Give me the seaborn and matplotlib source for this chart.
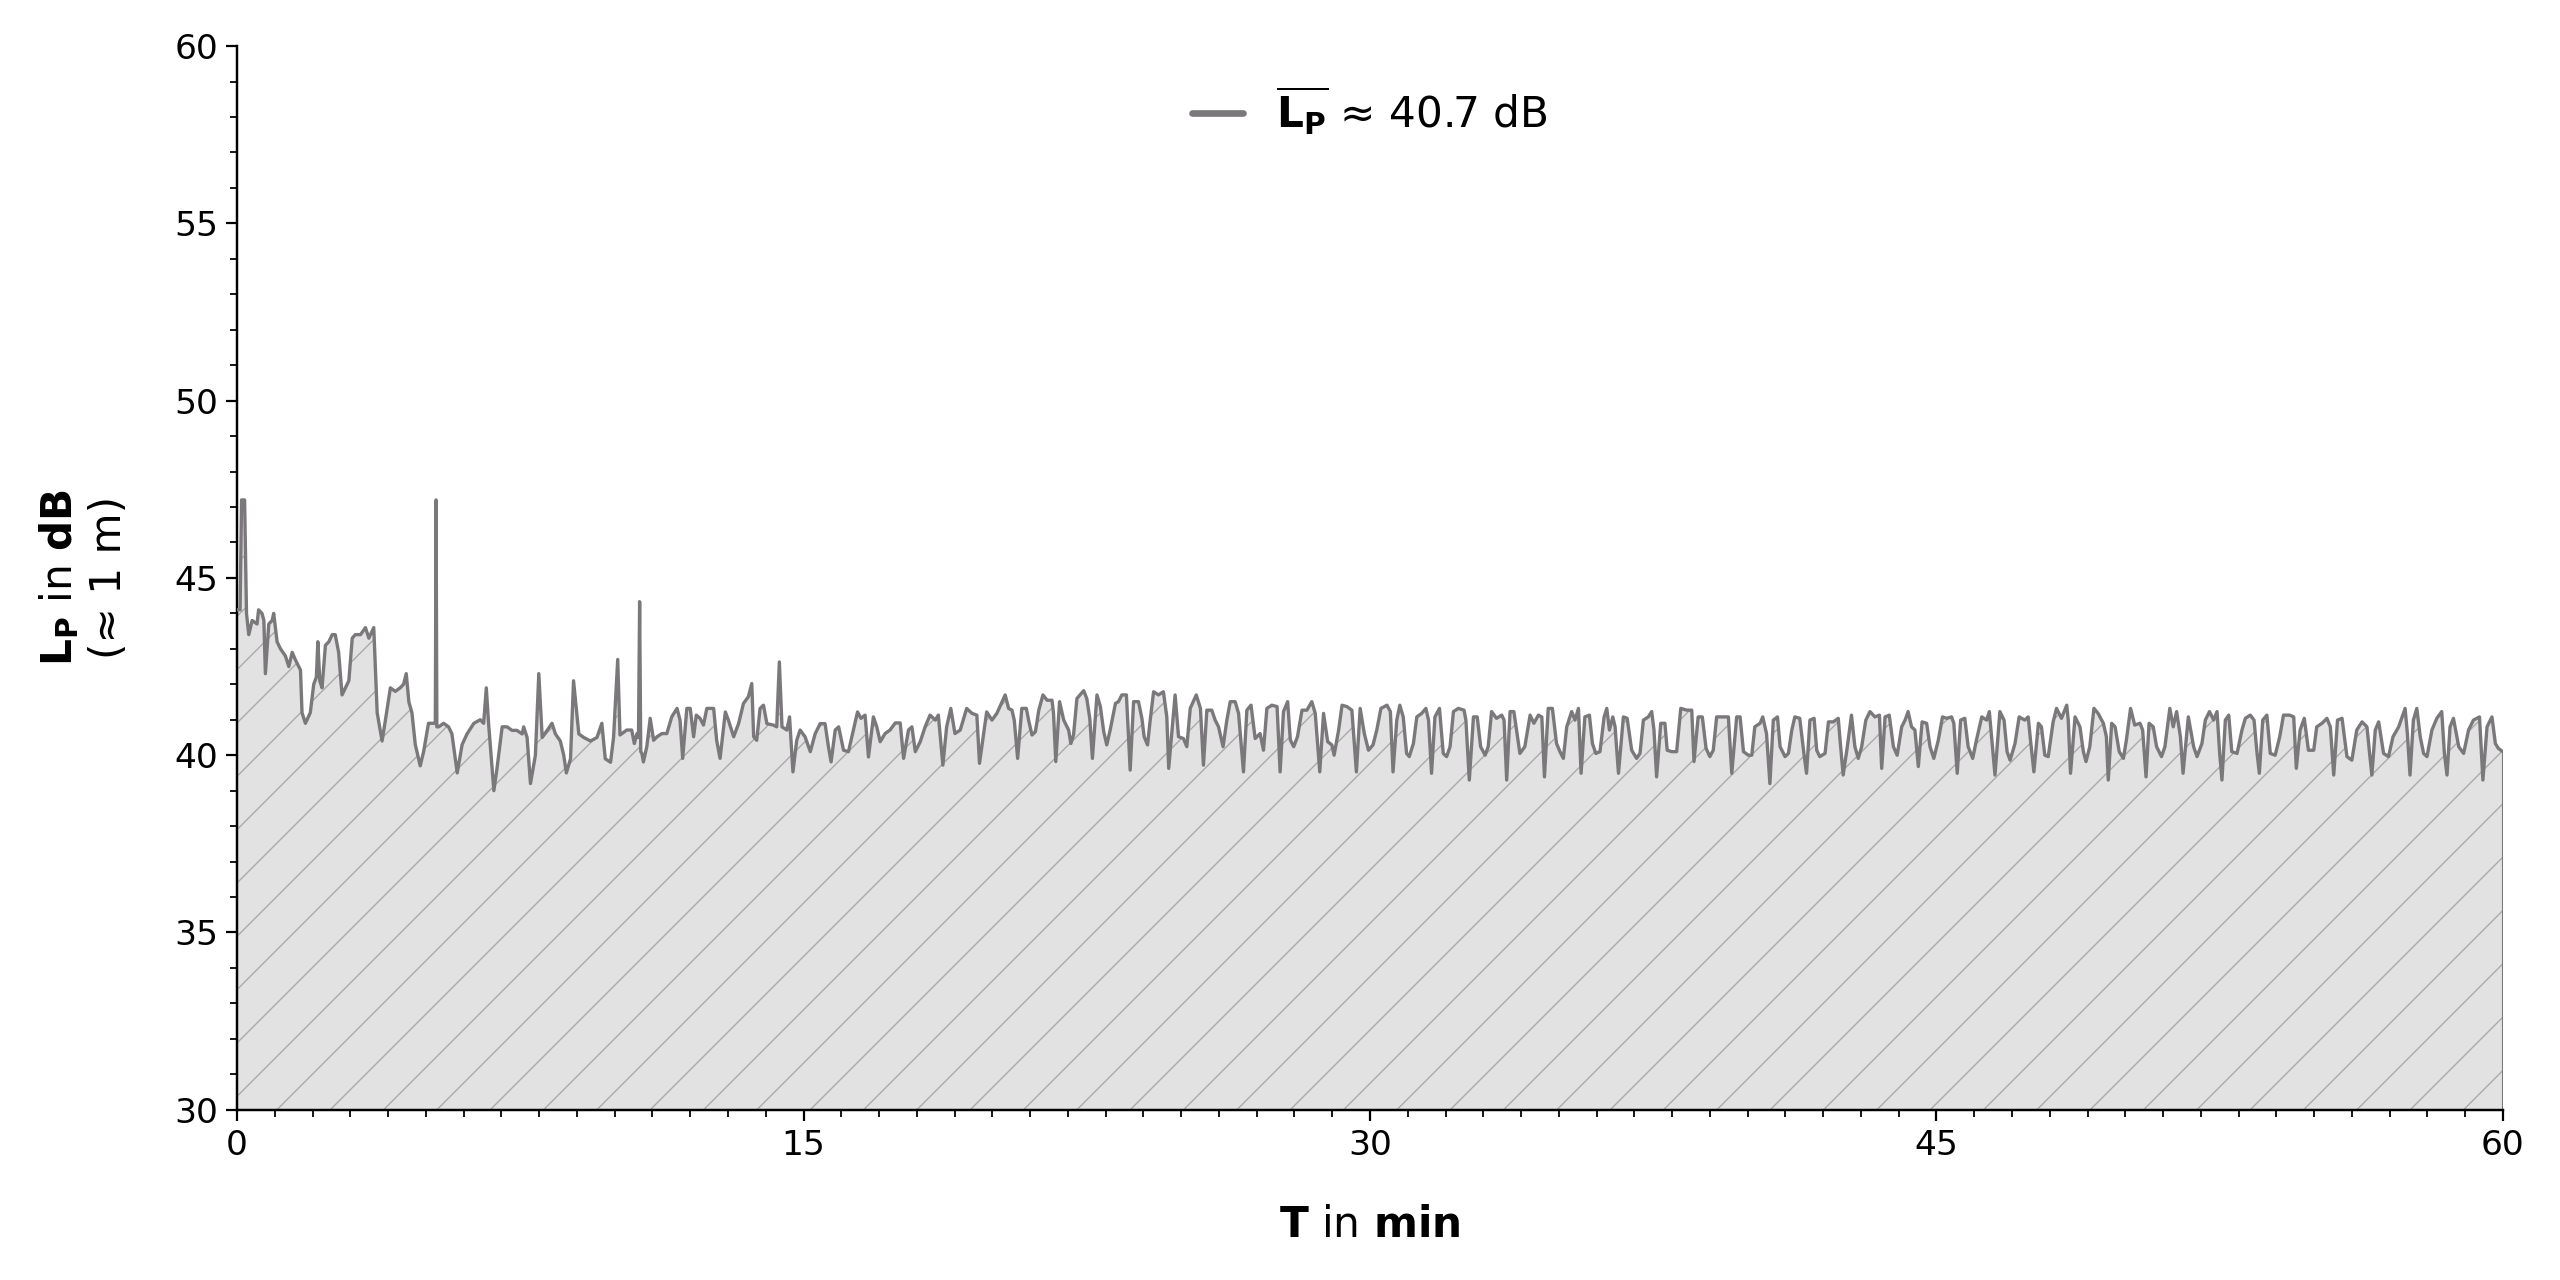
import numpy as np
import pandas as pd
import matplotlib
matplotlib.use('Agg')
import matplotlib.pyplot as plt
from matplotlib.ticker import MultipleLocator
import seaborn as sns

# (time in min, level in dB), split in ~10 min pieces
seg_00_10 = [(0.00, 44.1), (0.08, 44.1), (0.12, 47.2), (0.20, 47.2), (0.25, 44.0), (0.31, 43.4),
             (0.40, 43.8), (0.53, 43.7), (0.57, 44.1), (0.66, 44.0), (0.71, 43.8), (0.75, 42.3),
             (0.84, 43.7), (0.93, 43.8), (0.97, 44.0), (1.06, 43.2), (1.15, 43.0), (1.28, 42.8),
             (1.37, 42.5), (1.46, 42.9), (1.54, 42.7), (1.68, 42.4), (1.72, 41.2), (1.81, 40.9),
             (1.94, 41.2), (2.03, 42.0), (2.10, 42.2), (2.14, 43.2), (2.19, 42.1), (2.25, 41.9),
             (2.34, 43.1), (2.43, 43.2), (2.52, 43.4), (2.60, 43.4), (2.69, 42.9), (2.78, 41.7),
             (2.87, 41.9), (2.96, 42.1), (3.05, 43.3), (3.13, 43.4), (3.27, 43.4), (3.40, 43.6),
             (3.49, 43.3), (3.62, 43.6), (3.71, 41.2), (3.84, 40.4), (3.93, 41.0), (4.06, 41.9),
             (4.19, 41.8), (4.32, 41.9), (4.41, 42.0), (4.48, 42.3), (4.55, 41.5), (4.63, 41.2),
             (4.72, 40.3), (4.85, 39.7), (4.94, 40.1), (5.07, 40.9), (5.21, 40.9), (5.25, 40.9),
             (5.27, 47.2), (5.29, 40.8), (5.34, 40.8), (5.47, 40.9), (5.60, 40.8), (5.69, 40.6),
             (5.83, 39.5), (5.96, 40.3), (6.09, 40.6), (6.27, 40.9), (6.44, 41.0), (6.53, 40.9),
             (6.60, 41.9), (6.66, 40.9), (6.80, 39.0), (6.88, 39.6), (7.02, 40.8), (7.15, 40.8),
             (7.28, 40.7), (7.41, 40.7), (7.55, 40.6), (7.59, 40.8), (7.68, 40.5), (7.77, 39.2),
             (7.90, 40.0), (7.99, 42.3), (8.08, 40.5), (8.21, 40.7), (8.34, 40.9), (8.43, 40.6),
             (8.56, 40.4), (8.65, 40.0), (8.72, 39.5), (8.83, 39.9), (8.91, 42.1), (9.05, 40.6),
             (9.18, 40.5), (9.36, 40.4), (9.53, 40.5), (9.66, 40.9), (9.75, 39.9), (9.89, 39.8),
             (9.97, 40.5), (10.08, 42.7)]

seg_10_20 = [(10.14, 40.57), (10.32, 40.71), (10.45, 40.71), (10.52, 40.33), (10.59, 40.61),
             (10.63, 40.5), (10.66, 44.33), (10.69, 40.1), (10.72, 40.05), (10.76, 39.81),
             (10.85, 40.24), (10.94, 41.04), (11.03, 40.42), (11.12, 40.52), (11.25, 40.61),
             (11.38, 40.61), (11.51, 41.08), (11.65, 41.32), (11.73, 40.99), (11.80, 39.91),
             (11.91, 41.32), (12.00, 41.32), (12.09, 40.52), (12.16, 41.13), (12.26, 41.04),
             (12.35, 40.85), (12.44, 41.32), (12.62, 41.32), (12.70, 40.42), (12.79, 39.91),
             (12.93, 41.22), (13.01, 40.99), (13.15, 40.52), (13.28, 40.89), (13.41, 41.46),
             (13.54, 41.65), (13.63, 42.02), (13.68, 40.52), (13.76, 40.42), (13.85, 41.32),
             (13.94, 41.41), (14.03, 40.89), (14.20, 40.85), (14.29, 40.80), (14.36, 42.63),
             (14.43, 40.80), (14.56, 40.71), (14.63, 41.08), (14.72, 39.53), (14.82, 40.42),
             (14.91, 40.71), (15.04, 40.52), (15.18, 40.10), (15.31, 40.61), (15.44, 40.89),
             (15.57, 40.89), (15.66, 40.24), (15.73, 39.81), (15.84, 40.71), (15.93, 40.80),
             (16.06, 40.14), (16.19, 40.10), (16.32, 40.71), (16.43, 41.22), (16.52, 41.04),
             (16.63, 41.13), (16.72, 39.95), (16.85, 41.08), (16.94, 40.80), (17.03, 40.38),
             (17.16, 40.61), (17.29, 40.71), (17.43, 40.91), (17.56, 40.91), (17.65, 39.91),
             (17.78, 40.71), (17.87, 40.80), (17.96, 40.10), (18.09, 40.38), (18.22, 40.80),
             (18.35, 41.13), (18.49, 40.99), (18.57, 41.13), (18.69, 39.72), (18.79, 40.80),
             (18.90, 41.32), (19.01, 40.61), (19.15, 40.71), (19.32, 41.32), (19.46, 41.18),
             (19.59, 41.13), (19.66, 39.77), (19.77, 40.61), (19.85, 41.22), (19.99, 40.99),
             (20.12, 41.18)]

seg_20_30 = [(20.34, 41.70), (20.43, 41.32), (20.52, 41.27), (20.58, 40.99), (20.67, 39.91),
             (20.78, 41.32), (20.90, 41.32), (20.96, 40.99), (21.05, 40.57), (21.14, 40.66),
             (21.23, 41.27), (21.34, 41.70), (21.45, 41.55), (21.58, 41.55), (21.62, 41.18),
             (21.68, 39.82), (21.78, 41.51), (21.89, 40.99), (22.02, 40.71), (22.08, 40.33),
             (22.15, 40.57), (22.24, 41.60), (22.42, 41.82), (22.50, 41.60), (22.58, 41.04),
             (22.65, 39.91), (22.77, 41.70), (22.86, 41.37), (22.95, 40.66), (23.03, 40.29),
             (23.12, 40.71), (23.26, 41.46), (23.34, 41.51), (23.43, 41.70), (23.55, 41.70),
             (23.65, 39.58), (23.74, 41.51), (23.87, 41.51), (23.96, 41.04), (24.02, 40.52),
             (24.11, 40.29), (24.18, 40.99), (24.27, 41.79), (24.40, 41.70), (24.53, 41.79),
             (24.62, 41.08), (24.67, 39.63), (24.76, 40.71), (24.84, 41.70), (24.93, 40.52),
             (25.06, 40.47), (25.15, 40.24), (25.24, 41.32), (25.40, 41.70), (25.51, 41.32),
             (25.59, 39.72), (25.68, 41.27), (25.81, 41.27), (25.90, 40.99), (25.99, 40.80),
             (26.11, 40.24), (26.21, 40.99), (26.30, 41.51), (26.43, 41.51), (26.52, 41.18),
             (26.65, 39.53), (26.74, 41.27), (26.85, 41.41), (26.96, 40.47), (27.09, 40.61),
             (27.18, 40.14), (27.27, 41.32), (27.40, 41.41), (27.54, 41.37), (27.62, 39.53),
             (27.71, 41.23), (27.82, 41.51), (27.89, 40.43), (27.98, 40.24), (28.08, 40.52),
             (28.20, 41.27), (28.33, 41.27), (28.46, 41.51), (28.55, 41.18), (28.67, 39.53),
             (28.77, 41.18), (28.88, 40.38), (28.99, 40.29), (29.05, 40.00), (29.17, 40.71),
             (29.26, 41.41), (29.39, 41.37), (29.52, 41.27), (29.64, 39.53), (29.74, 41.32),
             (29.85, 40.61), (29.96, 40.14), (30.08, 40.29), (30.18, 40.71), (30.29, 41.32),
             (30.45, 41.41), (30.54, 41.23), (30.61, 39.53)]

seg_30_41 = [(30.71, 40.99), (30.79, 41.41), (30.88, 41.08), (30.97, 40.05), (31.04, 39.96),
             (31.15, 40.33), (31.24, 41.08), (31.37, 41.18), (31.48, 41.32), (31.55, 40.99),
             (31.63, 39.49), (31.72, 41.08), (31.84, 41.32), (31.94, 40.05), (32.03, 39.96),
             (32.12, 40.24), (32.21, 41.23), (32.34, 41.32), (32.49, 41.27), (32.54, 40.99),
             (32.63, 39.30), (32.74, 41.08), (32.84, 41.08), (32.93, 40.24), (33.05, 40.00),
             (33.13, 40.24), (33.22, 41.23), (33.35, 41.04), (33.49, 41.13), (33.55, 40.99),
             (33.62, 39.30), (33.71, 41.23), (33.81, 41.23), (33.88, 40.71), (33.97, 40.05),
             (34.10, 40.24), (34.24, 41.13), (34.34, 40.90), (34.46, 41.13), (34.55, 41.08),
             (34.62, 39.39), (34.72, 41.32), (34.83, 41.32), (34.94, 40.33), (35.03, 40.10),
             (35.12, 39.91), (35.21, 40.80), (35.34, 41.23), (35.43, 40.99), (35.52, 41.32),
             (35.59, 39.49), (35.69, 41.08), (35.81, 41.13), (35.89, 40.33), (35.98, 40.05),
             (36.09, 40.10), (36.20, 41.08), (36.27, 41.32), (36.34, 40.71), (36.43, 41.08),
             (36.49, 40.80), (36.58, 39.49), (36.71, 41.08), (36.81, 41.04), (36.93, 40.14),
             (37.06, 39.91), (37.15, 40.05), (37.24, 40.99), (37.37, 41.08), (37.46, 41.23),
             (37.52, 40.71), (37.59, 39.39), (37.70, 40.90), (37.81, 40.90), (37.87, 40.14),
             (37.99, 40.10), (38.12, 40.10), (38.23, 41.32), (38.39, 41.27), (38.52, 41.27),
             (38.58, 39.82), (38.69, 41.08), (38.80, 41.08), (38.90, 40.19), (39.00, 39.96),
             (39.09, 40.14), (39.18, 41.08), (39.31, 41.08), (39.49, 41.08), (39.58, 39.49),
             (39.71, 41.08), (39.80, 41.08), (39.89, 40.10), (40.02, 40.00), (40.11, 40.00),
             (40.19, 40.80), (40.33, 40.90), (40.40, 41.08), (40.50, 40.61), (40.59, 39.20),
             (40.68, 40.99), (40.79, 41.08), (40.86, 40.24), (40.99, 39.96), (41.08, 40.05),
             (41.17, 40.71), (41.25, 41.08)]

seg_41_52 = [(41.38, 41.04), (41.49, 40.05), (41.56, 39.49), (41.65, 40.99), (41.76, 41.04),
             (41.83, 40.14), (41.91, 39.96), (42.05, 40.05), (42.14, 40.94), (42.27, 40.94),
             (42.40, 41.04), (42.44, 40.52), (42.53, 39.44), (42.64, 40.24), (42.75, 41.13),
             (42.84, 40.24), (42.93, 39.91), (43.02, 40.24), (43.13, 40.99), (43.24, 41.23),
             (43.37, 41.08), (43.49, 41.13), (43.55, 39.63), (43.64, 41.08), (43.75, 41.13),
             (43.86, 40.24), (43.96, 40.00), (44.08, 40.80), (44.17, 40.99), (44.25, 41.23),
             (44.34, 40.80), (44.43, 40.71), (44.52, 39.68), (44.62, 40.94), (44.74, 40.90),
             (44.83, 40.24), (44.93, 39.91), (45.05, 40.43), (45.16, 41.08), (45.27, 41.04),
             (45.40, 41.08), (45.46, 40.90), (45.55, 39.49), (45.64, 40.99), (45.75, 41.04),
             (45.84, 40.24), (45.96, 39.91), (46.06, 40.43), (46.20, 41.08), (46.33, 40.99),
             (46.40, 41.23), (46.46, 40.52), (46.55, 39.44), (46.68, 41.23), (46.79, 40.99),
             (46.87, 40.10), (46.95, 39.86), (47.08, 40.33), (47.19, 41.08), (47.34, 40.99),
             (47.43, 41.08), (47.49, 40.43), (47.58, 39.53), (47.70, 40.90), (47.78, 40.80),
             (47.87, 40.00), (47.96, 39.96), (48.09, 40.94), (48.18, 41.32), (48.31, 41.04),
             (48.45, 41.41), (48.49, 40.99), (48.55, 39.49), (48.67, 41.08), (48.80, 40.80),
             (48.89, 40.10), (48.96, 39.82), (49.06, 40.24), (49.17, 41.32), (49.28, 41.18),
             (49.42, 40.90), (49.50, 40.52), (49.55, 39.30), (49.64, 40.90), (49.73, 40.80),
             (49.84, 40.10), (49.95, 39.91), (50.03, 40.43), (50.14, 41.32), (50.25, 40.85),
             (50.39, 40.90), (50.46, 40.71), (50.55, 39.39), (50.63, 40.90), (50.74, 40.80),
             (50.83, 40.24), (50.96, 39.96), (51.05, 40.24), (51.18, 41.32), (51.27, 40.80),
             (51.36, 41.23), (51.46, 40.52), (51.53, 39.49), (51.67, 41.08)]

seg_52_60 = [(51.81, 40.24), (51.90, 39.96), (52.03, 40.33), (52.12, 40.99), (52.23, 41.23),
             (52.34, 40.99), (52.43, 41.23), (52.50, 40.05), (52.56, 39.30), (52.65, 40.99),
             (52.74, 41.13), (52.82, 40.10), (52.96, 40.05), (53.09, 40.71), (53.18, 41.04),
             (53.31, 41.13), (53.41, 40.99), (53.49, 40.05), (53.55, 39.49), (53.64, 40.99),
             (53.75, 41.13), (53.84, 40.05), (53.97, 40.00), (54.09, 40.52), (54.19, 41.13),
             (54.35, 41.13), (54.46, 41.08), (54.53, 39.63), (54.63, 40.71), (54.74, 41.04),
             (54.85, 40.14), (54.99, 40.14), (55.07, 40.80), (55.21, 40.90), (55.34, 41.04),
             (55.43, 40.80), (55.52, 39.44), (55.62, 40.99), (55.74, 41.04), (55.87, 39.96),
             (56.00, 39.86), (56.13, 40.71), (56.27, 40.94), (56.40, 40.80), (56.47, 40.05),
             (56.53, 39.44), (56.62, 40.71), (56.71, 40.94), (56.84, 40.05), (56.97, 39.96),
             (57.09, 40.52), (57.24, 40.80), (57.41, 41.32), (57.47, 40.61), (57.54, 39.44),
             (57.63, 40.99), (57.72, 41.32), (57.81, 40.52), (57.90, 40.05), (57.99, 39.96),
             (58.12, 40.71), (58.25, 41.04), (58.38, 41.23), (58.45, 40.05), (58.52, 39.44),
             (58.60, 40.80), (58.69, 41.04), (58.83, 40.24), (58.96, 40.05), (59.09, 40.71),
             (59.22, 40.99), (59.38, 41.08), (59.47, 39.30), (59.58, 40.80), (59.71, 41.08),
             (59.80, 40.33), (59.88, 40.19), (60.00, 40.10)]

mean_label = r'$\overline{\mathbf{L_P}}$ ≈ 40.7 dB'
x_ticks = [0, 15, 30, 45, 60]
y_ticks = [30, 35, 40, 45, 50, 55, 60]

segments = [seg_00_10, seg_10_20, seg_20_30, seg_30_41, seg_41_52, seg_52_60]
df = pd.DataFrame([p for s in segments for p in s], columns=['T', 'LP'])

sns.set_style('ticks')
plt.rcParams['font.family'] = ['DejaVu Sans']
plt.rcParams['hatch.linewidth'] = 0.6
plt.rcParams['text.color'] = 'black'
plt.rcParams['axes.labelcolor'] = 'black'

line_color = '#7b787b'

fig, ax = plt.subplots(figsize=(16, 8), dpi=160)
fig.subplots_adjust(left=0.0926, right=0.9777, top=0.964, bottom=0.133)

# grey hatched area under the curve
ax.fill_between(df['T'], 30, df['LP'], facecolor='#e2e2e2', edgecolor='#a8a8a8',
                hatch='/', linewidth=0, zorder=1)
ax.vlines(df['T'].iloc[-1], 30, df['LP'].iloc[-1], color=line_color, lw=1.4, zorder=2)

sns.lineplot(data=df, x='T', y='LP', ax=ax, color=line_color, lw=1.5,
             estimator=None, sort=False, label=mean_label, zorder=3)

ax.set_xlim(0, 60)
ax.set_ylim(30, 60)
ax.set_xticks(x_ticks)
ax.set_yticks(y_ticks)
ax.xaxis.set_minor_locator(MultipleLocator(1))
ax.yaxis.set_minor_locator(MultipleLocator(1))
ax.tick_params(axis='both', which='major', labelsize=15.5, length=5, width=1, colors='black')
ax.tick_params(axis='both', which='minor', length=3, width=0.8, colors='black')

ax.set_xlabel(r'$\mathbf{T}$ in $\mathbf{min}$', fontsize=19, labelpad=19)
ax.set_ylabel(r'$\mathbf{L_P}$ in $\mathbf{dB}$' + '\n(≈ 1 m)', fontsize=19, labelpad=20)

leg = ax.legend(loc='upper center', frameon=False, fontsize=19,
                handlelength=1.2, handletextpad=0.8)
for h in leg.get_lines():
    h.set_linewidth(3)

sns.despine(ax=ax)
for sp in ['left', 'bottom']:
    ax.spines[sp].set_linewidth(1.1)
    ax.spines[sp].set_color('black')

fig.savefig('out.png', dpi=160)
